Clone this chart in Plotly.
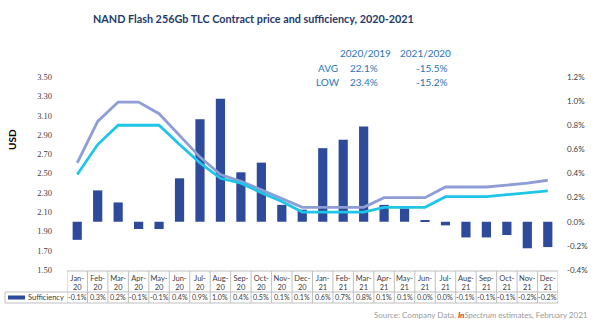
import plotly.graph_objects as go

# ---------------- data ----------------
months = ["Jan-20", "Feb-20", "Mar-20", "Apr-20", "May-20", "Jun-20", "Jul-20", "Aug-20",
          "Sep-20", "Oct-20", "Nov-20", "Dec-20", "Jan-21", "Feb-21", "Mar-21", "Apr-21",
          "May-21", "Jun-21", "Jul-21", "Aug-21", "Sep-21", "Oct-21", "Nov-21", "Dec-21"]
avg_price = [2.61, 3.04, 3.24, 3.24, 3.12, 2.90, 2.67, 2.49, 2.42, 2.33, 2.24, 2.15,
             2.15, 2.15, 2.15, 2.25, 2.25, 2.25, 2.36, 2.36, 2.36, 2.38, 2.40, 2.43]
low_price = [2.49, 2.80, 3.00, 3.00, 3.00, 2.80, 2.61, 2.45, 2.40, 2.30, 2.21, 2.10,
             2.10, 2.10, 2.10, 2.15, 2.15, 2.15, 2.26, 2.26, 2.26, 2.28, 2.30, 2.32]
sufficiency = [-0.15, 0.26, 0.16, -0.06, -0.06, 0.36, 0.85, 1.02, 0.41, 0.49, 0.14, 0.10,
               0.61, 0.68, 0.79, 0.14, 0.11, 0.01, -0.03, -0.13, -0.13, -0.11, -0.22, -0.21]
suff_labels = ["-0.1%", "0.3%", "0.2%", "-0.1%", "-0.1%", "0.4%", "0.9%", "1.0%", "0.4%",
               "0.5%", "0.1%", "0.1%", "0.6%", "0.7%", "0.8%", "0.1%", "0.1%", "0.0%",
               "0.0%", "-0.1%", "-0.1%", "-0.1%", "-0.2%", "-0.2%"]
usd_ticks = [1.50, 1.70, 1.90, 2.10, 2.30, 2.50, 2.70, 2.90, 3.10, 3.30, 3.50]
pct_ticks = [-0.4, -0.2, 0.0, 0.2, 0.4, 0.6, 0.8, 1.0, 1.2]
summary_cols = ["2020/2019", "2021/2020"]
summary_rows = ["AVG", "LOW"]
summary_vals = [["22.1%", "-15.5%"], ["23.4%", "-15.2%"]]

# ---------------- layout helpers ----------------
W, H = 600, 327
L, R, T, B = 67, 42, 77, 57
pw, ph = W - L - R, H - T - B


def px(x):
    return (x - L) / pw


def py(y):
    return (H - B - y) / ph


BAR = "#2E4A9A"
AVG_C = "#8E9DD5"
LOW_C = "#1EC5E8"
GRID = "#BFBFBF"
TXT = "#404040"
FONT = "Lato"

fig = go.Figure()
fig.add_trace(go.Bar(x=months, y=sufficiency, yaxis="y", marker_color=BAR,
                     marker_line_width=0, width=0.45, name="Sufficiency", showlegend=False))
fig.add_trace(go.Scatter(x=months, y=avg_price, yaxis="y2", mode="lines",
                         line=dict(color=AVG_C, width=2.8), name="AVG", showlegend=False))
fig.add_trace(go.Scatter(x=months, y=low_price, yaxis="y2", mode="lines",
                         line=dict(color=LOW_C, width=2.8), name="LOW", showlegend=False))

shapes = []
annotations = []

# table grid
for i in range(len(months) + 1):
    shapes.append(dict(type="line", xref="x", yref="paper", x0=i - 0.5, x1=i - 0.5,
                       y0=py(271), y1=py(303), line=dict(color=GRID, width=1)))
shapes.append(dict(type="line", xref="paper", yref="paper", x0=0, x1=1,
                   y0=py(271), y1=py(271), line=dict(color=GRID, width=1)))
for yy in (292, 303):
    shapes.append(dict(type="line", xref="paper", yref="paper", x0=px(5), x1=1,
                       y0=py(yy), y1=py(yy), line=dict(color=GRID, width=1)))
shapes.append(dict(type="line", xref="paper", yref="paper", x0=px(5), x1=px(5),
                   y0=py(292), y1=py(303), line=dict(color=GRID, width=1)))
# legend key
shapes.append(dict(type="rect", xref="paper", yref="paper", x0=px(8), x1=px(25),
                   y0=py(299.5), y1=py(295.5), fillcolor=BAR, line=dict(width=0)))
annotations.append(dict(text="Sufficiency", xref="paper", yref="paper", x=px(26),
                        y=py(297.5), xanchor="left", yanchor="middle", showarrow=False,
                        font=dict(family=FONT, size=7.5, color=TXT)))
for m, lab in zip(months, suff_labels):
    annotations.append(dict(text=lab, xref="x", yref="paper", x=m, y=py(297.6),
                            xanchor="center", yanchor="middle", showarrow=False,
                            font=dict(family=FONT, size=7.2, color=TXT)))

# title
annotations.append(dict(text="<b>NAND Flash 256Gb TLC Contract price and sufficiency, 2020-2021</b>",
                        xref="paper", yref="paper", x=px(253), y=py(18), xanchor="center",
                        yanchor="middle", showarrow=False,
                        font=dict(family=FONT, size=10.8, color="#1F3A68")))
# USD label
annotations.append(dict(text="<b>USD</b>", xref="paper", yref="paper", x=px(12), y=py(140),
                        xanchor="center", yanchor="middle", textangle=-90, showarrow=False,
                        font=dict(family=FONT, size=10, color="#000000")))
# summary box
SC = "#2E74B5"
col_x = [365, 425]
val_x = [364, 432]
row_y = [68, 82]
for cx, c in zip(col_x, summary_cols):
    annotations.append(dict(text=c, xref="paper", yref="paper", x=px(cx), y=py(53),
                            xanchor="center", yanchor="middle", showarrow=False,
                            font=dict(family=FONT, size=10, color=SC)))
for ry, r, vals in zip(row_y, summary_rows, summary_vals):
    annotations.append(dict(text=r, xref="paper", yref="paper", x=px(328), y=py(ry),
                            xanchor="center", yanchor="middle", showarrow=False,
                            font=dict(family=FONT, size=10, color=SC)))
    for vx, v in zip(val_x, vals):
        annotations.append(dict(text=v, xref="paper", yref="paper", x=px(vx), y=py(ry),
                                xanchor="center", yanchor="middle", showarrow=False,
                                font=dict(family=FONT, size=10, color=SC)))
# source
annotations.append(dict(text="Source: Company Data, <i><b><span style='color:#C0392B'>In</span></b>Spectrum</i> estimates, February 2021",
                        xref="paper", yref="paper", x=px(590), y=py(315), xanchor="right",
                        yanchor="middle", showarrow=False,
                        font=dict(family=FONT, size=8, color="#9A9A9A")))

fig.update_layout(
    width=W, height=H,
    margin=dict(l=L, r=R, t=T, b=B, pad=0),
    paper_bgcolor="white", plot_bgcolor="white",
    bargap=0.55,
    showlegend=False,
    xaxis=dict(type="category", range=[-0.5, len(months) - 0.5],
               tickvals=months, ticktext=[m.replace("-", "-<br>") for m in months],
               tickfont=dict(family=FONT, size=7.5, color=TXT), ticks="",
               showgrid=False, zeroline=False, showline=False, ticklabelstandoff=2),
    yaxis=dict(side="right", range=[-0.4, 1.2], tickvals=pct_ticks,
               ticktext=[f"{v:.1f}%" for v in pct_ticks],
               tickfont=dict(family=FONT, size=8, color=TXT), ticks="",
               showgrid=False, zeroline=False, showline=False, ticklabelstandoff=8),
    yaxis2=dict(side="left", overlaying="y", range=[1.5, 3.5], tickvals=usd_ticks,
                ticktext=[f"{v:.2f}" for v in usd_ticks],
                tickfont=dict(family="Liberation Serif", size=8.5, color=TXT), ticks="",
                showgrid=False, zeroline=False, showline=False, ticklabelstandoff=14),
    shapes=shapes,
    annotations=annotations,
)

fig.write_html("out.html")
